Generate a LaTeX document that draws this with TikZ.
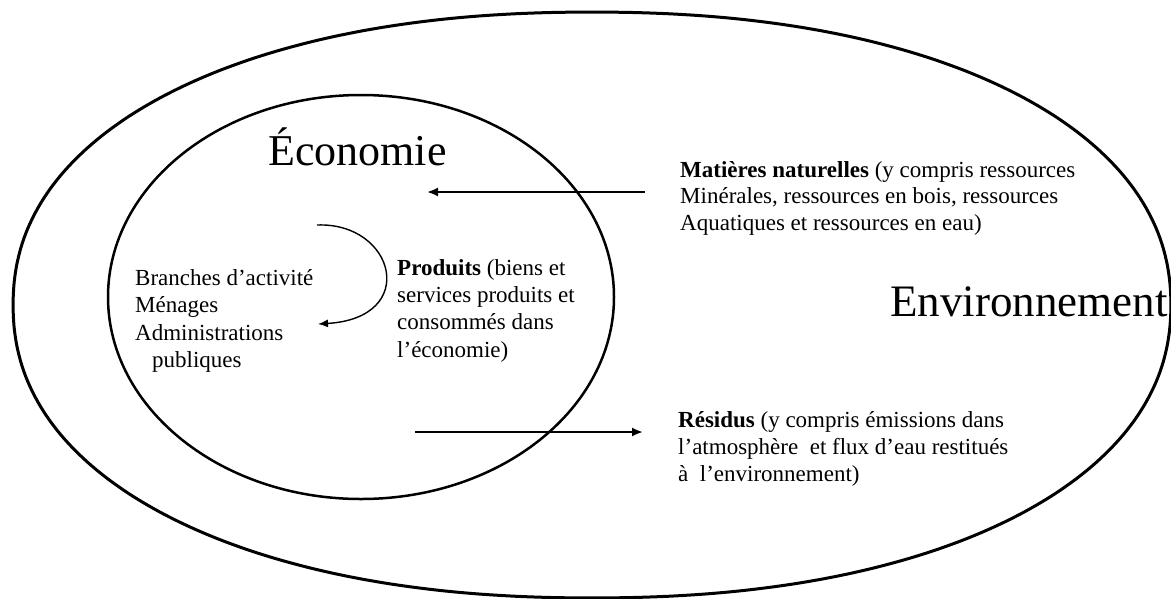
\documentclass[tikz,border=0pt]{standalone}
\usepackage{fontspec}
\setmainfont{Liberation Serif}
\usetikzlibrary{arrows.meta}
\begin{document}
\begin{tikzpicture}[x=1pt,y=-1pt,
  txt/.style={anchor=base west, inner sep=0pt, font=\fontsize{23}{27}\selectfont},
  bigtxt/.style={anchor=base west, inner sep=0pt, font=\fontsize{44}{50}\selectfont},
  flow/.style={line width=2pt, -{Latex[length=11pt,width=9pt]}},
  cycleflow/.style={line width=1.4pt, -{Latex[length=10pt,width=8pt]}},
  outerline/.style={line width=3pt},
  innerline/.style={line width=2.5pt}]
\useasboundingbox (0,0) rectangle (1171,598);
% Environment (outer) and economy (inner) boundaries
\draw[outerline] plot[domain=0.5:359.5, samples=360]
  ({592+579*cos(\x)/((abs(cos(\x)))^0.08)}, {305+293*sin(\x)/((abs(sin(\x)))^0.08)}) -- cycle;
\draw[innerline] (361,297) ellipse [x radius=253, y radius=202];
% titles
\node[bigtxt] (eco) at (268,165) {Économie};
\node[bigtxt, font=\fontsize{45}{50}\selectfont] (env) at (890,316) {Environnement};
% natural inputs
\node[txt] (mat1) at (680,177) {\textbf{Matières naturelles} (y compris ressources};
\node[txt] (mat2) at (680,203.5) {Minérales, ressources en bois, ressources};
\node[txt] (mat3) at (680,230) {Aquatiques et ressources en eau)};
% agents
\node[txt] (ag1) at (135,285) {Branches d’activité};
\node[txt] (ag2) at (135,312.5) {Ménages};
\node[txt] (ag3) at (135,340) {Administrations};
\node[txt] (ag4) at (152,367.5) {publiques};
% products
\node[txt] (pr1) at (397,275) {\textbf{Produits} (biens et};
\node[txt] (pr2) at (397,302.3) {services produits et};
\node[txt] (pr3) at (397,329.6) {consommés dans};
\node[txt] (pr4) at (397,357) {l’économie)};
% residuals
\node[txt] (re1) at (678,427) {\textbf{Résidus} (y compris émissions dans};
\node[txt] (re2) at (678,454) {l’atmosphère\ \ et flux d’eau restitués};
\node[txt] (re3) at (678,481) {à\ \ l’environnement)};
% connectors
\coordinate (inS) at (645,192);
\coordinate (inE) at (427,192);
\coordinate (outS) at (415,432);
\coordinate (outE) at (643,432);
\coordinate (cyS) at (317,225);
\coordinate (cyE) at (318,324);
\draw[flow] (inS) -- (inE);
\draw[flow] (outS) -- (outE);
\draw[cycleflow] (cyS) .. controls (395,222) and (420,318) .. (cyE);
\end{tikzpicture}
\end{document}
